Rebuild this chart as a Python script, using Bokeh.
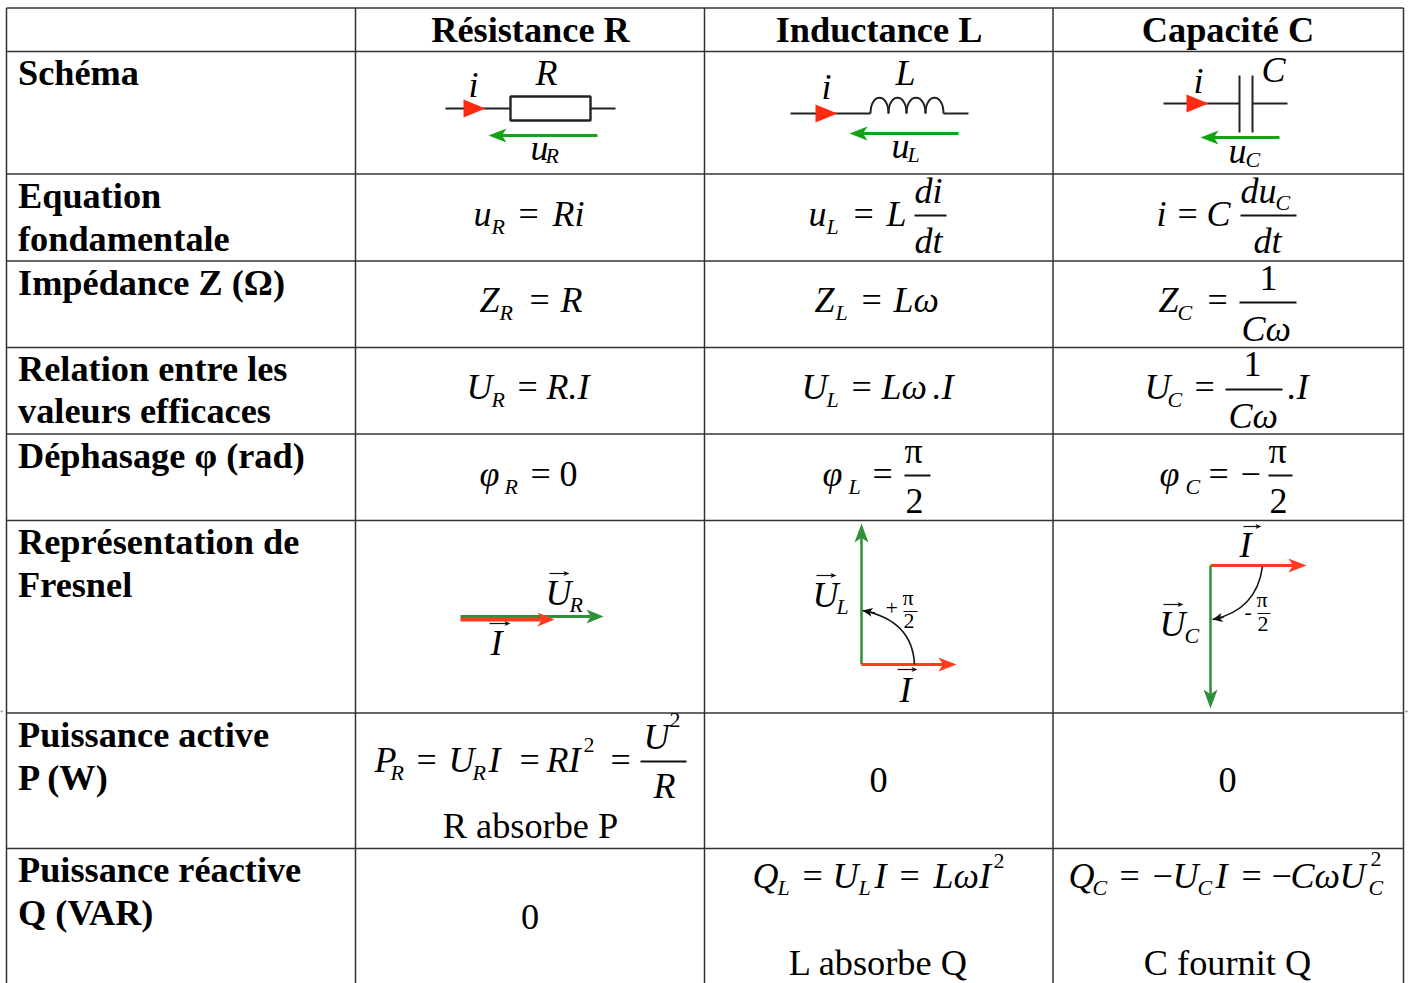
from bokeh.plotting import figure
from bokeh.models import Range1d
from bokeh.core.properties import value
from bokeh.embed import file_html
from bokeh.resources import INLINE
import numpy as np

FONT = "Liberation Serif"

# ---- table structure
column_edges = [6, 355, 704, 1052.5, 1403]
row_edges = [7.5, 51, 173.5, 260.5, 347, 433.5, 520, 712.5, 848]
column_headers = ["Résistance R", "Inductance L", "Capacité C"]
column_centers = [530, 878.5, 1227.5]
header_baseline = [43, 43, 43]

row_labels = ["Schéma", "Equation", "fondamentale", "Impédance Z (Ω)", "Relation entre les",
              "valeurs efficaces", "Déphasage φ (rad)", "Représentation de", "Fresnel",
              "Puissance active", "P (W)", "Puissance réactive", "Q (VAR)"]
row_label_baselines = [86, 209, 252, 296, 382, 424, 469, 555, 598, 748, 791, 883, 926]
row_label_x = [17.5] * len(row_labels)

# ---- centred plain cell text
plain_text = ["R absorbe P", "0", "0", "0", "L absorbe Q", "C fournit Q"]
plain_x = [530, 878, 1227, 529.5, 878, 1227]
plain_y = [839, 793, 793, 930, 976, 976]

# ---- formula runs: x, baseline, text, style
# i = italic, n = upright, s = italic index, t = small upright
formula_runs = [
    # schema labels
    (468, 97, "i", "i"), (535, 85, "R", "i"), (530, 160, "u", "i"), (545, 163, "R", "s"),
    (821, 99, "i", "i"), (895, 85, "L", "i"), (891, 158, "u", "i"), (907, 162, "L", "s"),
    (1193, 93, "i", "i"), (1261, 82, "C", "i"), (1228, 163, "u", "i"), (1245, 167, "C", "s"),
    # equations
    (473, 226, "u", "i"), (491, 234, "R", "s"), (518, 226, "=", "n"), (552, 226, "Ri", "i"),
    (808, 226, "u", "i"), (826, 234, "L", "s"), (853, 226, "=", "n"), (886, 226, "L", "i"),
    (914, 203, "di", "i"), (914, 253, "dt", "i"),
    (1156, 226, "i", "i"), (1177, 226, "=", "n"), (1206, 226, "C", "i"),
    (1240, 203, "du", "i"), (1275, 210, "C", "s"), (1253, 253, "dt", "i"),
    # impedances
    (479, 312, "Z", "i"), (499, 320, "R", "s"), (529, 312, "=", "n"), (560, 312, "R", "i"),
    (814, 312, "Z", "i"), (835, 320, "L", "s"), (861, 312, "=", "n"), (893, 312, "Lω", "i"),
    (1158, 312, "Z", "i"), (1177, 320, "C", "s"), (1207, 312, "=", "n"),
    (1259, 290, "1", "n"), (1241, 341, "Cω", "i"),
    # effective values
    (466, 399, "U", "i"), (491, 407, "R", "s"), (517, 399, "=", "n"), (546, 399, "R.I", "i"),
    (801, 399, "U", "i"), (826, 407, "L", "s"), (851, 399, "=", "n"), (881, 399, "Lω", "i"), (932, 399, ".I", "i"),
    (1144, 399, "U", "i"), (1167, 407, "C", "s"), (1194, 399, "=", "n"),
    (1243, 376, "1", "n"), (1228, 428, "Cω", "i"), (1287, 399, ".I", "i"),
    # phase
    (479, 486, "φ", "i"), (504, 494, "R", "s"), (530, 486, "=", "n"), (559, 486, "0", "n"),
    (822, 486, "φ", "i"), (848, 494, "L", "s"), (872, 486, "=", "n"), (904, 463, "π", "n"), (905, 513, "2", "n"),
    (1159, 486, "φ", "i"), (1185, 494, "C", "s"), (1208, 486, "=", "n"), (1240, 486, "−", "n"),
    (1268, 463, "π", "n"), (1269, 513, "2", "n"),
    # Fresnel
    (545, 605, "U", "i"), (569, 612, "R", "s"), (490, 655, "I", "i"),
    (812, 607, "U", "i"), (836, 614, "L", "s"), (899, 702, "I", "i"),
    (885, 615, "+", "t"), (902, 605, "π", "t"), (903, 628, "2", "t"),
    (1239, 557, "I", "i"), (1159, 636, "U", "i"), (1184, 643, "C", "s"),
    (1244, 619, "-", "t"), (1256, 607, "π", "t"), (1257, 631, "2", "t"),
    # active power
    (374, 772, "P", "i"), (390, 780, "R", "s"), (416, 772, "=", "n"), (448, 772, "U", "i"), (472, 780, "R", "s"),
    (488, 772, "I", "i"), (519, 772, "=", "n"), (546, 772, "RI", "i"), (583, 752, "2", "t"), (610, 772, "=", "n"),
    (643, 749, "U", "i"), (669, 727, "2", "t"), (653, 798, "R", "i"),
    # reactive power
    (752, 888, "Q", "i"), (777, 895, "L", "s"), (802, 888, "=", "n"), (832, 888, "U", "i"), (858, 895, "L", "s"),
    (874, 888, "I", "i"), (899, 888, "=", "n"), (933, 888, "LωI", "i"), (993, 868, "2", "t"),
    (1068, 888, "Q", "i"), (1092, 895, "C", "s"), (1119, 888, "=", "n"), (1152, 888, "−", "n"), (1172, 888, "U", "i"),
    (1197, 895, "C", "s"), (1215, 888, "I", "i"), (1241, 888, "=", "n"), (1271, 888, "−", "n"), (1290, 888, "Cω", "i"),
    (1339, 888, "U", "i"), (1370, 866, "2", "t"), (1368, 895, "C", "s"),
]

# fraction bars: x0, x1, y, width
fraction_bars = [
    (914, 946, 215, 2), (1240, 1296, 215, 2), (1239, 1296, 302, 2), (1225, 1282, 389, 2),
    (904, 930, 475, 2), (1268, 1292, 475, 2), (640, 686, 761, 2),
    (903, 917, 611, 1), (1257, 1270, 613, 1),
]

# small stray marks just outside the table, level with the Fresnel row's lower edge
stray_x0 = [0, 1405]
stray_x1 = [2, 1407]
stray_y = [711, 711]

# ---- circuit schematics
wire_x0 = [445, 590, 790, 943, 1163, 1252, 1239, 1252]
wire_x1 = [510, 615, 870, 968, 1239, 1287, 1239, 1252]
wire_y0 = [108, 108, 113, 113, 103, 103, 75, 75]
wire_y1 = [108, 108, 113, 113, 103, 103, 132, 132]
resistor_box = (510, 590, 96, 120)
inductor_knots = [870, 888, 906, 925, 943]
inductor_base, inductor_cp = 113, 92

current_tri = [(463, 485, 108), (815, 837, 113), (1186, 1208, 103)]
voltage_arrows = [(597, 135, 488, 135), (958, 133, 849, 133), (1279, 137, 1200, 137)]

# ---- Fresnel vectors: x0,y0,x1,y1,colour,width,head length,head half width
GREEN = "#2f8f3a"
RED = "#ff3a1f"
vectors = [
    (460, 616, 603, 616, GREEN, 3, 17, 7),
    (460, 619, 554, 619, RED, 4, 17, 7),
    (861, 664, 861, 523, GREEN, 2.5, 19, 7),
    (861, 664, 956, 664, RED, 3, 18, 7),
    (1210, 565, 1306, 565, RED, 3, 18, 7),
    (1210, 565, 1210, 708, GREEN, 2.5, 19, 7),
]
# angle arcs: start, control, end
arcs = [((914, 664), (912, 620), (862, 610)), ((1262, 566), (1256, 610), (1212, 619))]
# little vector marks over letters: x0,x1,y
over_arrows = [(549, 569, 573), (489, 510, 623), (816, 836, 575), (897, 917, 669), (1243, 1261, 526), (1163, 1183, 604)]

p = figure(width=1409, height=983, output_backend="svg", toolbar_location=None,
           x_range=Range1d(0, 1409), y_range=Range1d(983, 0), min_border=0,
           x_axis_type=None, y_axis_type=None)
p.xgrid.visible = False
p.ygrid.visible = False
p.outline_line_color = None
p.background_fill_color = "white"
p.border_fill_color = "white"

LINE = "#333333"
bottom = 983
p.segment(column_edges, [row_edges[0]] * 5, column_edges, [bottom] * 5, line_color=LINE, line_width=1.5)
p.segment([column_edges[0]] * len(row_edges), row_edges, [column_edges[-1]] * len(row_edges), row_edges,
          line_color=LINE, line_width=1.5)
p.segment(stray_x0, stray_y, stray_x1, stray_y, line_color="#777777", line_width=1.5)

def draw_text(xs, ys, texts, size, style="normal", align="left"):
    p.text(xs, ys, text=texts, text_font=value(FONT), text_font_size=value(f"{size}px"),
           text_font_style=value(style), text_color="#000000", text_align=value(align),
           text_baseline=value("alphabetic"), y_offset=value(-0.36 * size))

draw_text(column_centers, header_baseline, column_headers, 36.3, "bold", "center")
draw_text(row_label_x, row_label_baselines, row_labels, 36.3, "bold")
draw_text(plain_x, plain_y, plain_text, 36.3, "normal", "center")

styles = {"i": (36, "italic"), "n": (36, "normal"), "s": (22, "italic"), "t": (22, "normal")}
for key, (size, style) in styles.items():
    runs = [r for r in formula_runs if r[3] == key]
    draw_text([r[0] for r in runs], [r[1] for r in runs], [r[2] for r in runs], size, style)

for x0, x1, y, w in fraction_bars:
    p.line([x0, x1], [y, y], line_color="#111111", line_width=w)

p.segment(wire_x0, wire_y0, wire_x1, wire_y1, line_color="#222222", line_width=2)
bx0, bx1, by0, by1 = resistor_box
p.quad(left=[bx0], right=[bx1], top=[by0], bottom=[by1], fill_color="white", line_color="#222222", line_width=2.4)
n = len(inductor_knots) - 1
p.bezier(inductor_knots[:-1], [inductor_base] * n, inductor_knots[1:], [inductor_base] * n,
         inductor_knots[:-1], [inductor_cp] * n, inductor_knots[1:], [inductor_cp] * n,
         line_color="#222222", line_width=2)

for x0, x1, y in current_tri:
    p.patch([x0, x1, x0], [y - 9, y, y + 9], fill_color="#ff2a12", line_color=None)

def arrow(x0, y0, x1, y1, color, width, length, half):
    v = np.array([x1 - x0, y1 - y0], float)
    v /= np.hypot(*v)
    n_ = np.array([-v[1], v[0]])
    tip = np.array([x1, y1], float)
    base = tip - v * length
    notch = tip - v * length * 0.75
    p.line([x0, notch[0]], [y0, notch[1]], line_color=color, line_width=width)
    a, b = base + n_ * half, base - n_ * half
    p.patch([tip[0], a[0], notch[0], b[0]], [tip[1], a[1], notch[1], b[1]], fill_color=color, line_color=None)

for x0, y0, x1, y1 in voltage_arrows:
    arrow(x0, y0, x1, y1, "#12a512", 3, 18, 7)
for v in vectors:
    arrow(*v)
for x0, x1, y in over_arrows:
    arrow(x0, y, x1, y, "#111111", 1.2, 6, 2.5)

for (s, c, e) in arcs:
    p.quadratic([s[0]], [s[1]], [e[0]], [e[1]], [c[0]], [c[1]], line_color="#111111", line_width=1.6)
    d = np.array(e, float) - np.array(c, float)
    arrow(e[0] - d[0] * 0.25, e[1] - d[1] * 0.25, e[0], e[1], "#111111", 1.6, 10, 4.5)

open("out.html", "w").write(file_html(p, INLINE))
